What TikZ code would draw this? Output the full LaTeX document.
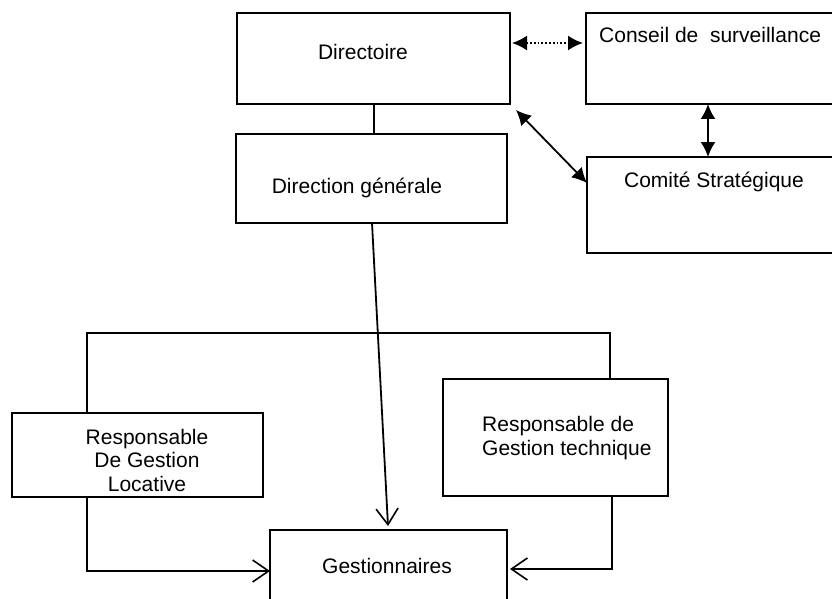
\documentclass[tikz,border=0pt]{standalone}
\usepackage{fontspec}
\setmainfont{Liberation Sans}
\usetikzlibrary{arrows.meta,calc}
\tikzset{
  boxnode/.style={draw,line width=1.8pt,anchor=north west,inner sep=0pt,outer sep=0pt},
  txt/.style={inner sep=0pt,font=\fontsize{21}{23.5}\selectfont},
  conn/.style={line width=1.8pt},
  fillarrow/.style={conn,{Latex[length=15pt,width=15pt]}-{Latex[length=15pt,width=15pt]}},
  dotarrow/.style={fillarrow,dotted},
  openarrow/.style={conn,-{Straight Barb[length=16pt,width=22pt,line width=1.6pt]}}
}
\begin{document}
\begin{tikzpicture}[x=1pt,y=-1pt]
\useasboundingbox (0,0) rectangle (832,599);
\clip (0,0) rectangle (832,599);
% boxes
\node[boxnode,minimum width=273pt,minimum height=91pt] (dir) at (237,13) {};
\node[boxnode,minimum width=271pt,minimum height=89pt] (dg) at (236,134) {};
\node[boxnode,minimum width=264pt,minimum height=91pt] (cs) at (586,13) {};
\node[boxnode,minimum width=263pt,minimum height=96pt] (ct) at (587,157) {};
\node[boxnode,minimum width=251pt,minimum height=84pt] (loc) at (12,413) {};
\node[boxnode,minimum width=225pt,minimum height=117pt] (tech) at (443,379) {};
\node[boxnode,minimum width=237pt,minimum height=80pt] (gest) at (270,530) {};
% texts
\node[txt] (tdir) at ($(dir.north west)+(126,39)$) {Directoire};
\node[txt] (tdg) at ($(dg.north west)+(121,54)$) {Direction générale};
\node[txt,anchor=west] (tcs) at ($(cs.north west)+(13,22)$) {Conseil de~ surveillance};
\node[txt] (tct) at ($(ct.north west)+(127,25)$) {Comité Stratégique};
\node[txt,align=center] (tloc) at ($(loc.north west)+(135,47)$) {Responsable\\De Gestion\\Locative};
\node[txt,align=left,anchor=west] (ttech) at ($(tech.north west)+(39,59)$) {Responsable de\\Gestion technique};
\node[txt] (tgest) at ($(gest.north west)+(117,36)$) {Gestionnaires};
% connectors
\draw[conn] ($(dir.south west)+(137,0)$) -- ($(dg.north west)+(138,0)$);
\draw[dotarrow] ($(dir.north east)+(2,30)$) -- ($(cs.north west)+(-3,30)$);
\draw[fillarrow] ($(cs.south west)+(122,0)$) -- ($(ct.north west)+(121,0)$);
\draw[fillarrow] ($(dir.south east)+(6,6)$) -- ($(ct.north west)+(0,26)$);
\draw[openarrow] ($(dg.south west)+(136,0)$) -- ($(gest.north west)+(118,-4)$);
\draw[conn] ($(loc.north west)+(75,0)$) |- ($(tech.north west)+(167,-46)$) -- ($(tech.north west)+(167,0)$);
\draw[openarrow] ($(loc.south west)+(75,0)$) |- ($(gest.west)+(0,1)$);
\draw[openarrow] ($(tech.south west)+(169,0)$) |- ($(gest.east)+(3,-1)$);
\end{tikzpicture}
\end{document}
